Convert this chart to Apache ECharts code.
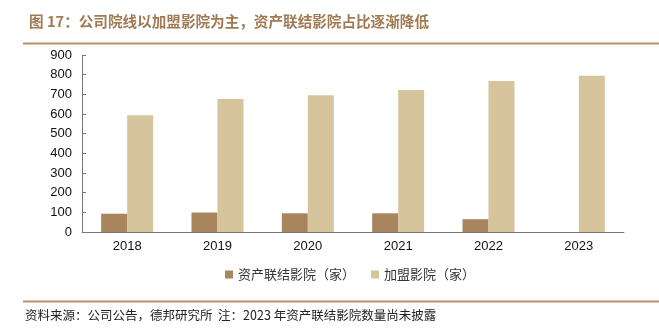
<!DOCTYPE html>
<html>
<head>
<meta charset="utf-8">
<style>
  html, body { margin: 0; padding: 0; background: #fff; }
  #chart { width: 659px; height: 334px; }
</style>
<script src="https://cdn.jsdelivr.net/npm/echarts@6/dist/echarts.min.js"></script>
</head>
<body>
<div id="chart"></div>
<script>
// Cinema counts by year
const years = ['2018', '2019', '2020', '2021', '2022', '2023'];
const ownedCinemas = [93, 99, 95, 95, 65, null];        // 资产联结影院（家）; 2023 not disclosed
const franchiseCinemas = [594, 676, 695, 722, 768, 795]; // 加盟影院（家）
const yTicks = { min: 0, max: 900, interval: 100 };

const titleColor = '#a07a52';
const cjk = '"Noto Sans CJK SC", "Noto Sans", sans-serif';
const latin = '"Liberation Sans", Arial, sans-serif';

const chart = echarts.init(document.getElementById('chart'));
chart.setOption({
  animation: false,
  title: {
    text: '图 17：公司院线以加盟影院为主，资产联结影院占比逐渐降低',
    left: 24,
    top: 9,
    textStyle: { color: titleColor, fontSize: 14.6, fontWeight: 'bold', fontFamily: cjk }
  },
  graphic: [
    { type: 'line', shape: { x1: 23, y1: 43.5, x2: 659, y2: 43.5 }, style: { stroke: '#b8926a', lineWidth: 2 } },
    { type: 'line', shape: { x1: 23, y1: 301.5, x2: 659, y2: 301.5 }, style: { stroke: '#b8926a', lineWidth: 2 } },
    {
      type: 'text', left: 25, top: 309,
      style: { text: '资料来源：公司公告，德邦研究所  注：2023 年资产联结影院数量尚未披露', fill: '#222', fontSize: 12.5, fontFamily: cjk }
    }
  ],
  legend: {
    bottom: 48,
    left: 220,
    itemWidth: 8,
    itemHeight: 8,
    itemGap: 16,
    icon: 'rect',
    textStyle: { color: '#333', fontSize: 13, fontFamily: cjk },
    data: ['资产联结影院（家）', '加盟影院（家）']
  },
  grid: { left: 82, right: 35, top: 55, bottom: 102 },
  xAxis: {
    type: 'category',
    data: years,
    axisLine: { lineStyle: { color: '#777' } },
    axisTick: { inside: true, length: 4, lineStyle: { color: '#777' } },
    axisLabel: { color: '#111', fontSize: 13, fontFamily: latin, margin: 8 }
  },
  yAxis: {
    type: 'value',
    min: yTicks.min,
    max: yTicks.max,
    interval: yTicks.interval,
    axisLine: { show: true, lineStyle: { color: '#777' } },
    axisTick: { show: true, inside: true, length: 4, lineStyle: { color: '#777' } },
    splitLine: { show: false },
    axisLabel: { color: '#111', fontSize: 13, fontFamily: latin, margin: 10 }
  },
  series: [
    {
      name: '资产联结影院（家）',
      type: 'bar',
      data: ownedCinemas,
      barWidth: 26,
      barGap: '0%',
      itemStyle: { color: '#a8855d' }
    },
    {
      name: '加盟影院（家）',
      type: 'bar',
      data: franchiseCinemas,
      barWidth: 26,
      itemStyle: { color: '#d5c49c' }
    }
  ]
});
</script>
</body>
</html>
